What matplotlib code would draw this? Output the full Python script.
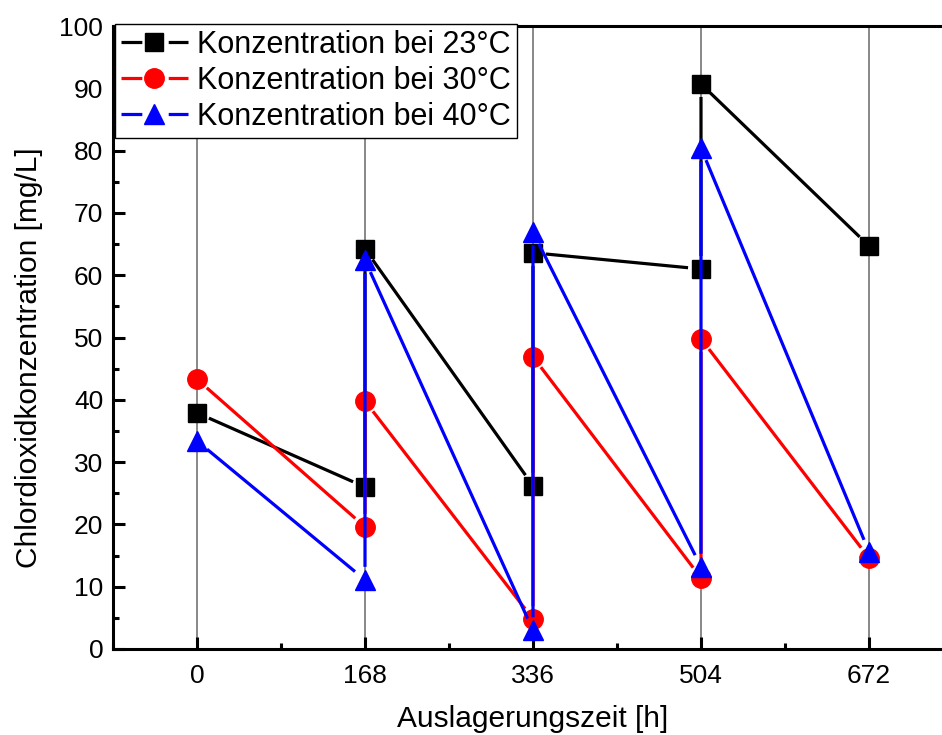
import numpy as np
import matplotlib
matplotlib.use("Agg")
import matplotlib.pyplot as plt
from matplotlib.lines import Line2D
from matplotlib.ticker import MultipleLocator

plt.rcParams['font.family'] = ['Liberation Sans', 'DejaVu Sans']
plt.rcParams['lines.scale_dashes'] = False

# data: each time point has a value before and after re-dosing
zeit = [0, 168, 168, 336, 336, 504, 504, 672]
konz_23 = [37.9, 26.0, 64.2, 26.2, 63.6, 61.0, 90.7, 64.7]
konz_30 = [43.3, 19.6, 39.8, 4.8, 46.9, 11.4, 49.8, 14.6]
konz_40 = [33.4, 11.1, 62.4, 3.0, 66.9, 13.2, 80.4, 15.6]

labels = ['Konzentration bei 23°C', 'Konzentration bei 30°C', 'Konzentration bei 40°C']
farben = ['black', 'red', 'blue']
marker = ['s', 'o', '^']
msize = [13, 14, 15]

xticks = [0, 168, 336, 504, 672]

fig = plt.figure(figsize=(9.42, 7.35), dpi=100)
ax = fig.add_axes([113/942, 86/735, 840/942, 623/735])
ax.set_xlim(-84, 756)
ax.set_ylim(0, 100)


def gapped(ax, x, y, gap, **kw):
    # Origin style: line stops short of each marker
    pts = ax.transData.transform(np.column_stack([x, y]))
    xs, ys = [], []
    for p, q in zip(pts[:-1], pts[1:]):
        d = q - p
        n = np.hypot(*d)
        if n <= 2 * gap:
            continue
        u = d / n
        a = ax.transData.inverted().transform([p + u * gap, q - u * gap])
        xs += [a[0, 0], a[1, 0], np.nan]
        ys += [a[0, 1], a[1, 1], np.nan]
    ax.plot(xs, ys, **kw)


for i, werte in enumerate([konz_23, konz_30, konz_40]):
    z = 3 + i * 2
    gapped(ax, zeit, werte, 13, color=farben[i], lw=2.3, zorder=z, solid_capstyle='butt')
    ax.plot(zeit, werte, ls='none', marker=marker[i], ms=msize[i],
            color=farben[i], mec=farben[i], zorder=z + 1)

for xt in xticks:
    ax.axvline(xt, color='#7f7f7f', lw=1.3, zorder=1)

ax.set_xticks(xticks)
ax.xaxis.set_minor_locator(MultipleLocator(84))
ax.yaxis.set_major_locator(MultipleLocator(10))
ax.yaxis.set_minor_locator(MultipleLocator(5))
ax.tick_params(which='both', direction='in', width=2.2, labelsize=19)
ax.tick_params(which='major', length=8.5)
ax.tick_params(which='minor', length=4.5)
ax.tick_params(axis='x', pad=11)
ax.tick_params(axis='y', pad=7)
for s in ax.spines.values():
    s.set_linewidth(2.2)

ax.set_xlabel('Auslagerungszeit [h]', fontsize=21.5, labelpad=12)
ax.set_ylabel('Chlordioxidkonzentration [mg/L]', fontsize=21.5)
ax.yaxis.set_label_coords(-0.083, 0.467)

handles = [Line2D([], [], color=farben[i], lw=2.3, ls=(0, (15, 19, 15, 100)),
                  marker=marker[i], ms=msize[i]) for i in range(3)]
leg = ax.legend(handles, labels, loc='upper left', bbox_to_anchor=(0.002, 1.004),
                borderaxespad=0, fontsize=22, handlelength=2.2, handletextpad=0.3,
                labelspacing=0.2, borderpad=0.2, fancybox=False, framealpha=1,
                edgecolor='black')
leg.get_frame().set_linewidth(1.0)
leg.set_zorder(20)

fig.savefig('out.png', dpi=100)
